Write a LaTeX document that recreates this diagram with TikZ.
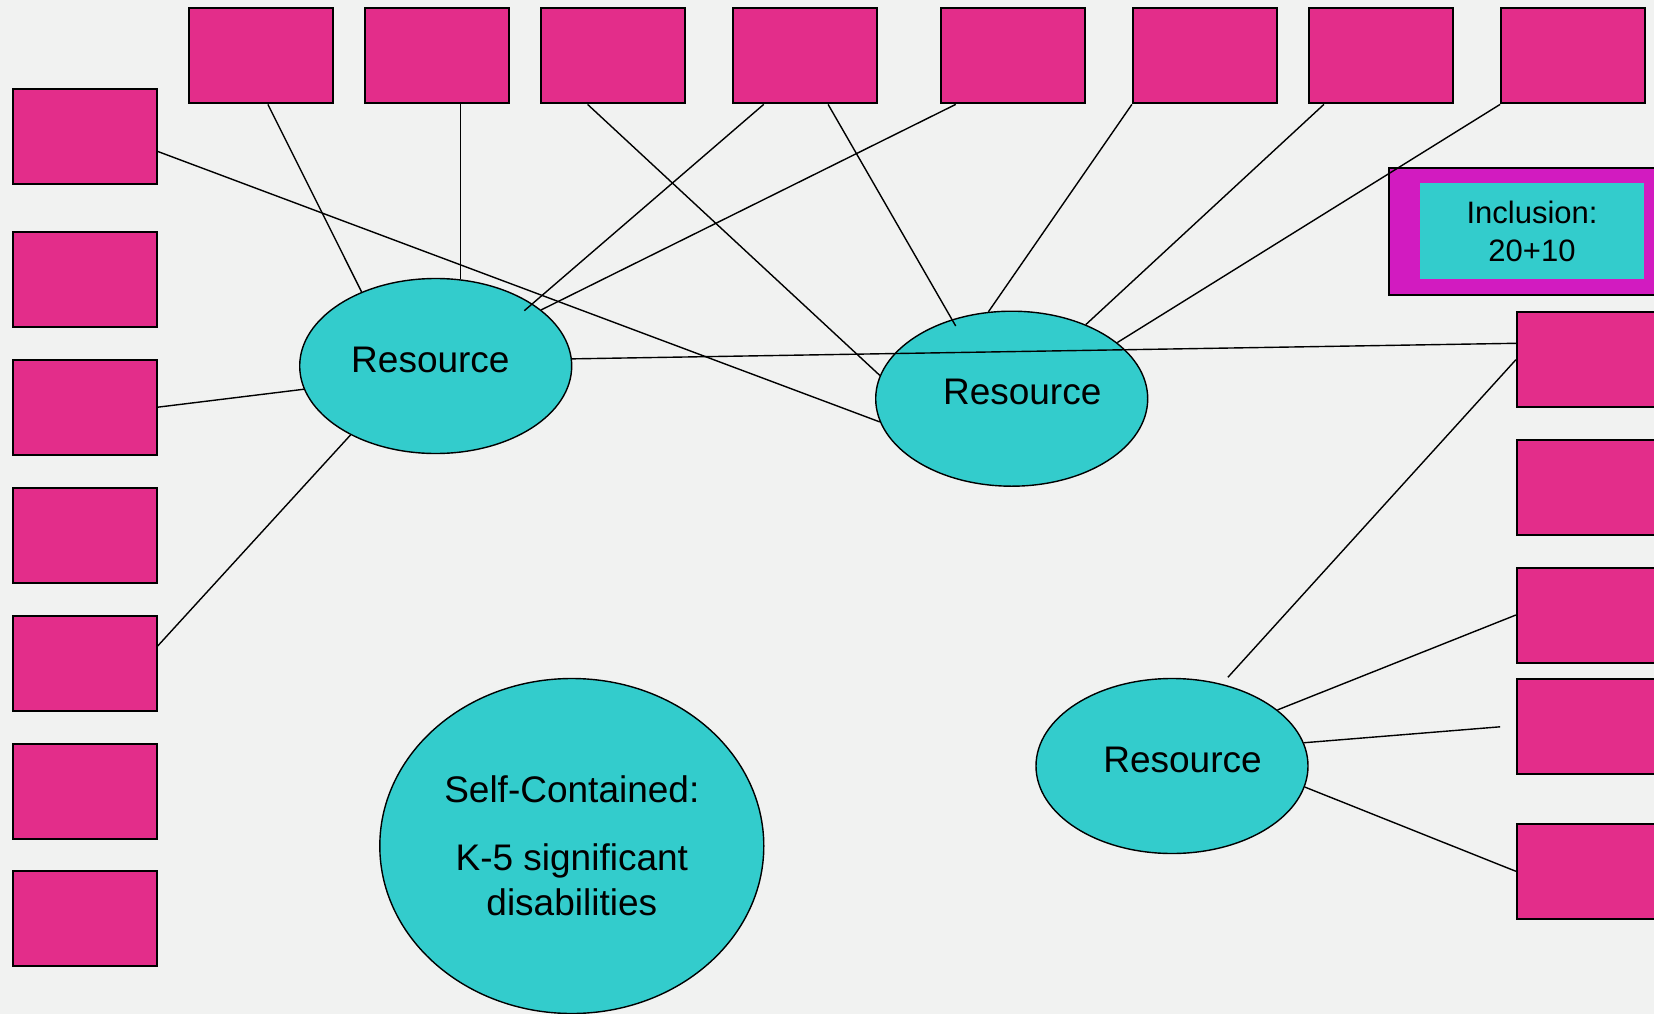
\documentclass[tikz,border=0pt]{standalone}
\usepackage{fontspec}
\setmainfont{Liberation Sans}
\usetikzlibrary{shapes.geometric,calc}
\definecolor{bgcol}{HTML}{F1F2F1}
\definecolor{boxpink}{HTML}{E32D8A}
\definecolor{rescyan}{HTML}{33CCCC}
\definecolor{inclmag}{HTML}{D21BC0}
\begin{document}
\begin{tikzpicture}[x=1pt,y=-1pt,
  pbox/.style={draw=black, line width=2pt, fill=boxpink, minimum width=144pt, minimum height=95pt, inner sep=0pt, anchor=north west},
  res/.style={ellipse, draw=black, line width=1.4pt, fill=rescyan, minimum width=272pt, minimum height=175pt, inner sep=0pt},
  restext/.style={font=\fontsize{37}{44}\selectfont, inner sep=0pt},
  conn/.style={line width=1.4pt, draw=black}]
\useasboundingbox (0,0) rectangle (1654,1014);
\clip (0,0) rectangle (1654,1014);
\fill[bgcol] (0,0) rectangle (1654,1014);
% top row
\foreach \n/\x in {1/187.8, 2/364, 3/540.1, 4/732.1, 5/939.9, 6/1131.9, 7/1308.1, 8/1500.1}
  \node[pbox] (t\n) at (\x,7.4) {};
% left column
\foreach \n/\y in {1/87.6, 2/231, 3/358.7, 4/487.4, 5/615, 6/742.7, 7/870.3}
  \node[pbox] (l\n) at (11.6,\y) {};
% right column
\foreach \n/\y in {1/311.2, 2/438.8, 3/566.5, 4/678.3, 5/822.8}
  \node[pbox] (r\n) at (1515.9,\y) {};
% inclusion box
\node[draw=black, line width=2pt, fill=inclmag, minimum width=290pt, minimum height=127pt, inner sep=0pt, anchor=north west] (inclout) at (1388.2,166.7) {};
\node[fill=rescyan, minimum width=224pt, minimum height=95.4pt, inner sep=0pt, align=center, font=\fontsize{31}{38}\selectfont] (inclin) at (1532,231) {Inclusion:\\20+10};
% ellipses
\node[res] (e1) at (435.7,366) {};
\node[res] (e2) at (1011.7,398.7) {};
\node[res] (e3) at (1172,766) {};
\node[res, minimum width=384pt, minimum height=335pt, align=center, font=\fontsize{37}{45.4}\selectfont] (e4) at (571.8,846) {Self-Contained:\\[22pt]K-5 significant\\disabilities};
\node[restext] (e1t) at (430.4,359.7) {Resource};
\node[restext] (e2t) at (1022.2,392.4) {Resource};
\node[restext] (e3t) at (1182.5,759.6) {Resource};
% connectors
\draw[conn] ([xshift=80.1pt]t1.south west) -- (e1.135);
\draw[conn] (e1.74.3 |- t2.south) -- (e1.74.3);
\draw[conn] ([xshift=47.5pt]t3.south west) -- (e2.170);
\draw[conn] ([xshift=31.6pt]t4.south west) -- ($(e1.center)+(88.6,-55.3)$);
\draw[conn] ([xshift=96pt]t4.south west) -- ($(e2.center)+(-56,-72.7)$);
\draw[conn] ([xshift=15.8pt]t5.south west) -- (e1.28);
\draw[conn] (t6.south west) -- (e2.105.7);
\draw[conn] ([xshift=15.8pt]t7.south west) -- (e2.45);
\draw[conn] (t8.south west) -- (e2.28.6);
\draw[conn] ([yshift=-15.3pt]l1.east) -- (e2.190);
\draw[conn] (l3.east) -- (e1.190.6);
\draw[conn] ([yshift=17.4pt]l5.east) -- (e1.219.7);
\draw[conn] (e1.3) -- ([yshift=16.4pt]r1.west);
\draw[conn] (r1.west) -- ($(e3.center)+(55.9,-88.7)$);
\draw[conn] (e3.28.8) -- (r3.west);
\draw[conn] (e3.10.2) -- ([xshift=-15.8pt]r4.west);
\draw[conn] (e3.-9.6) -- (r5.west);
\end{tikzpicture}
\end{document}
